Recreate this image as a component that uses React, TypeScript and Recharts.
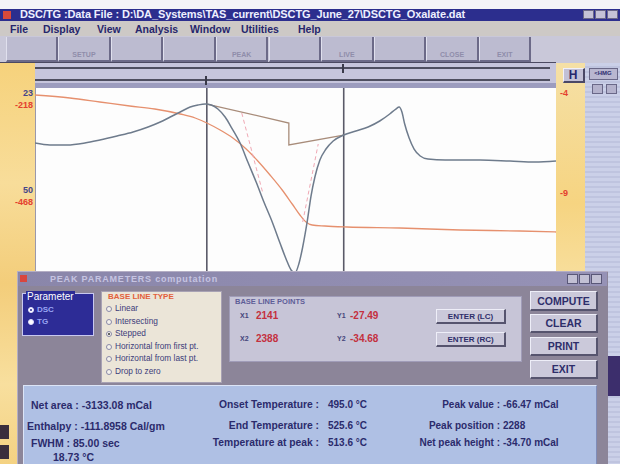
import React from 'react';
import { LineChart, Line, XAxis, YAxis, ReferenceLine } from 'recharts';

// DSC signal vs time (sec)
const dscTime = [1831, 1858, 1889, 1921, 1948, 1979, 2008, 2035, 2057, 2075, 2093, 2111, 2125, 2138, 2149, 2161, 2174, 2186, 2201, 2215, 2230, 2244, 2259, 2273, 2284, 2293, 2300, 2307, 2314, 2322, 2329, 2336, 2345, 2356, 2369, 2388, 2410, 2432, 2453, 2471, 2482, 2488, 2493, 2498, 2506, 2515, 2526, 2540, 2571, 2634, 2688, 2733, 2771];
const dscValue = [-36.92, -37.47, -37.47, -36.92, -36.08, -34.97, -33.85, -32.46, -31.07, -29.68, -28.29, -26.9, -26.34, -26.06, -26.34, -27.45, -29.68, -32.74, -36.92, -42.2, -47.77, -53.34, -58.9, -64.75, -69.2, -72.26, -73.1, -70.59, -65.86, -58.9, -51.67, -46.38, -41.65, -38.59, -36.36, -34.69, -33.58, -32.46, -30.79, -28.84, -27.45, -26.9, -28.29, -31.63, -35.52, -38.59, -40.53, -41.37, -41.65, -41.65, -41.93, -42.2, -41.93];

// TG signal vs time
const tgTime = [1831, 1894, 1948, 2002, 2047, 2093, 2120, 2141, 2165, 2188, 2212, 2233, 2255, 2277, 2295, 2309, 2320, 2331, 2354, 2394, 2489, 2598, 2706, 2771];
const tgValue = [-4.1, -4.25, -4.45, -4.65, -4.8, -5.05, -5.25, -5.5, -5.85, -6.25, -6.8, -7.4, -8.1, -8.85, -9.55, -10.1, -10.45, -10.6, -10.65, -10.7, -10.75, -10.85, -10.9, -10.95];

// stepped base line and tangents
const baseTime = [2141, 2289, 2289, 2388];
const baseValue = [-26.06, -31.35, -37.47, -34.69];
const tangentATime = [2204, 2242];
const tangentAValue = [-28.57, -50.83];
const tangentBTime = [2314, 2342];
const tangentBValue = [-58.9, -37.19];
const cursorTimes = [2141, 2388];

const leftTicks = [-23, -50];
const leftDscLabels = ['23', '50'];
const leftRedLabels = ['-218', '-468'];
const rightTicks = [-4, -9];

const menuItems = ['File', 'Display', 'View', 'Analysis', 'Window', 'Utilities', 'Help'];
const toolLabels = ['', 'SETUP', '', '', 'PEAK', '', 'LIVE', '', 'CLOSE', 'EXIT'];
const baseTypes = ['Linear', 'Intersecting', 'Stepped', 'Horizontal from first pt.', 'Horizontal from last pt.', 'Drop to zero'];
const sideButtons = ['COMPUTE', 'CLEAR', 'PRINT', 'EXIT'];
const col1 = ['Net area : -3133.08 mCal', 'Enthalpy : -111.8958 Cal/gm', 'FWHM : 85.00 sec'];
const col2Labels = ['Onset Temperature :', 'End Temperature :', 'Temperature at peak :'];
const col2Values = ['495.0 °C', '525.6 °C', '513.6 °C'];
const col3Labels = ['Peak value :', 'Peak position :', 'Net peak height :'];
const col3Values = ['-66.47 mCal', '2288', '-34.70 mCal'];

const zip = (ts: number[], vs: number[]) => ts.map((t, i) => ({ t, v: vs[i] }));

const dscData = zip(dscTime, dscValue);
const tgData = zip(tgTime, tgValue);
const baseData = zip(baseTime, baseValue);
const tanA = zip(tangentATime, tangentAValue);
const tanB = zip(tangentBTime, tangentBValue);

const FONT = '"Liberation Sans", Arial, sans-serif';
const rowY = [405, 426, 443];

function Box({ x, y, w, h, style }: any) {
  return <div style={{ position: 'absolute', left: x, top: y, width: w, height: h, boxSizing: 'border-box', ...style }} />;
}

function Txt({ x, y, s = 9, c = '#2b2b6c', right = false, center = false, children, style }: any) {
  return (
    <div
      style={{
        position: 'absolute', left: x, top: y - s * 0.6, fontSize: s, lineHeight: 1.2, color: c, fontWeight: 700,
        whiteSpace: 'nowrap', transform: right ? 'translateX(-100%)' : center ? 'translateX(-50%)' : undefined, ...style,
      }}
    >
      {children}
    </div>
  );
}

function Radio({ x, y, on, dark }: any) {
  return (
    <div style={{ position: 'absolute', left: x, top: y - 3, width: 6, height: 6, borderRadius: '50%', boxSizing: 'border-box',
      border: dark ? '1px solid #e0e0ff' : '1px solid #8a8aa8', background: dark ? '#fff' : '#f4f2ec' }}>
      {on && <div style={{ position: 'absolute', left: 1, top: 1, width: 2, height: 2, borderRadius: '50%', background: dark ? '#2d2c96' : '#333' }} />}
    </div>
  );
}

function Btn({ x, y, w, h, label, s = 10 }: any) {
  return (
    <div style={{ position: 'absolute', left: x, top: y, width: w, height: h, boxSizing: 'border-box', background: '#cbc9da',
      borderTop: '1px solid #eeeef8', borderLeft: '1px solid #eeeef8', borderRight: '2px solid #56546e', borderBottom: '2px solid #56546e',
      display: 'flex', alignItems: 'center', justifyContent: 'center', fontSize: s, fontWeight: 700, color: '#2e2e6a' }}>
      {label}
    </div>
  );
}

function LeftTick(props: any) {
  const { y, payload } = props;
  const i = leftTicks.indexOf(payload.value);
  return (
    <g fontFamily={FONT} fontSize={9} fontWeight={700}>
      <text x={33} y={y} dy={3} textAnchor="end" fill="#45458a">{leftDscLabels[i]}</text>
      <text x={33} y={y + 12} dy={3} textAnchor="end" fill="#e4402e">{leftRedLabels[i]}</text>
    </g>
  );
}

function RightTick(props: any) {
  const { y, payload } = props;
  return (
    <text x={560} y={y} dy={3} textAnchor="start" fill="#e4402e" fontFamily={FONT} fontSize={9} fontWeight={700}>
      {payload.value}
    </text>
  );
}

export default function App() {
  return (
    <div style={{ position: 'absolute', left: 0, top: 0, width: 620, height: 464, overflow: 'hidden', fontFamily: FONT, background: '#f4f4f8' }}>
      {/* title bar */}
      <Box x={0} y={9} w={620} h={12} style={{ background: '#2c2e8e' }} />
      <Box x={3} y={11} w={8} h={8} style={{ background: '#d84a3a' }} />
      <Txt x={20} y={15} s={11} c="#eef0ff" style={{ letterSpacing: -0.1 }}>{'DSC/TG :Data File :   D:\\DA_Systems\\TAS_current\\DSCTG_June_27\\DSCTG_Oxalate.dat'}</Txt>
      {[583, 595, 607].map((x) => <Box key={x} x={x} y={10} w={11} h={9} style={{ background: '#c4c2d6', border: '1px solid #6a6888' }} />)}
      {/* menu */}
      <Box x={0} y={21} w={620} h={15} style={{ background: '#cdc9c6' }} />
      {menuItems.map((m, i) => (
        <Txt key={m} x={[10, 43, 97, 135, 190, 241, 298][i]} y={29} s={10.5} c="#26266c">{m}</Txt>
      ))}
      {/* toolbar */}
      <Box x={0} y={36} w={620} h={27} style={{ background: '#c9c8d9' }} />
      {toolLabels.map((l, i) => (
        <div key={i} style={{ position: 'absolute', left: 5.5 + i * 52.6, top: 37, width: 52.6, height: 25, boxSizing: 'border-box',
          background: '#bcbbd0', borderRight: '2px solid #6c6a88', borderLeft: '1px solid #e0e0ee', borderBottom: '2px solid #6c6a88' }}>
          <div style={{ position: 'absolute', left: 0, right: 0, top: 14, textAlign: 'center', fontSize: 7, color: '#8f8daa', fontWeight: 700 }}>{l}</div>
        </div>
      ))}
      <Box x={0} y={62} w={556} h={1.5} style={{ background: '#4c4a62' }} />
      {/* slider strip */}
      <Box x={0} y={63} w={35} h={401} style={{ background: 'linear-gradient(180deg, #f6d27c 0%, #f8dd9a 30%, #f3cd7a 55%, #f8df9e 80%, #f4d282 100%)' }} />
      <Box x={35} y={63} w={521} h={25} style={{ background: '#c6c5dc' }} />
      <Box x={35} y={83} w={521} h={5} style={{ background: '#9c9cbe' }} />
      <Box x={35} y={67} w={515} h={1.5} style={{ background: '#4e4e60' }} />
      <Box x={35} y={79} w={515} h={1.5} style={{ background: '#4e4e60' }} />
      <Box x={342} y={64} w={2} h={9} style={{ background: '#3a3a4a' }} />
      <Box x={205} y={76} w={2} h={9} style={{ background: '#3a3a4a' }} />
      {/* right side panels */}
      <Box x={556} y={63} w={29} h={401} style={{ background: 'linear-gradient(180deg, #f5e0a6 0%, #f6d481 35%, #f8e2a6 60%, #f4d080 100%)' }} />
      <Box x={585} y={63} w={35} h={401} style={{ background: 'repeating-linear-gradient(180deg, #cbd0e8 0px, #cbd0e8 3px, #bfc4df 3px, #bfc4df 5px)' }} />
      <Box x={563} y={68} w={22} h={15} style={{ background: '#c2c0d6', borderTop: '1px solid #f0f0fa', borderLeft: '1px solid #f0f0fa', borderRight: '2px solid #4a4866', borderBottom: '2px solid #4a4866' }} />
      <Txt x={573} y={75} s={12} c="#28286c" center>H</Txt>
      <Box x={589} y={68} w={29} h={12} style={{ background: '#b9b7d0', border: '1px solid #6a6888' }} />
      <Txt x={603} y={74} s={6} c="#2e2e70" center>{'<HMG'}</Txt>
      <Box x={592} y={84} w={11} h={10} style={{ background: '#b4b2cc', border: '1px solid #6a6888' }} />
      <Box x={606} y={84} w={11} h={10} style={{ background: '#b4b2cc', border: '1px solid #6a6888' }} />
      {/* plot background */}
      <Box x={35} y={88} w={521} h={222} style={{ background: '#fdfdfd', borderLeft: '1px solid #9a98ac' }} />
      <div style={{ position: 'absolute', left: 0, top: 80 }}>
        <LineChart width={585} height={230} margin={{ top: 8, right: 0, bottom: 0, left: 0 }}>
          <XAxis type="number" dataKey="t" domain={[1831, 2771]} hide allowDataOverflow />
          <YAxis yAxisId="dsc" orientation="left" width={35} domain={[-83.4, -21.6]} ticks={leftTicks} interval={0}
            axisLine={false} tickLine={false} tick={(p: any) => <LeftTick {...p} />} allowDataOverflow />
          <YAxis yAxisId="tg" orientation="right" width={29} domain={[-14.85, -3.75]} ticks={rightTicks} interval={0}
            axisLine={false} tickLine={false} tick={(p: any) => <RightTick {...p} />} allowDataOverflow />
          {cursorTimes.map((t) => (
            <ReferenceLine key={t} yAxisId="dsc" x={t} stroke="#5a5a68" strokeWidth={1.6} />
          ))}
          <Line yAxisId="tg" data={tgData} dataKey="v" type="monotone" stroke="#e6906e" strokeWidth={1.3} dot={false} isAnimationActive={false} />
          <Line yAxisId="dsc" data={baseData} dataKey="v" type="linear" stroke="#a88c7a" strokeWidth={1.3} dot={false} isAnimationActive={false} />
          <Line yAxisId="dsc" data={tanA} dataKey="v" type="linear" stroke="#f0a8b4" strokeWidth={1} strokeDasharray="4 3" dot={false} isAnimationActive={false} />
          <Line yAxisId="dsc" data={tanB} dataKey="v" type="linear" stroke="#f0a8b4" strokeWidth={1} strokeDasharray="4 3" dot={false} isAnimationActive={false} />
          <Line yAxisId="dsc" data={dscData} dataKey="v" type="monotone" stroke="#6e7b8c" strokeWidth={1.5} dot={false} isAnimationActive={false} />
        </LineChart>
      </div>
      {/* peak parameters dialog */}
      <Box x={17} y={271} w={591} h={200} style={{ background: '#8c8599', borderTop: '1px solid #b4aec4', borderLeft: '1px solid #b4aec4' }} />
      <Box x={18} y={272} w={589} h={14} style={{ background: 'linear-gradient(90deg, #8a86aa, #9692b6)' }} />
      <Box x={20} y={275} w={7} h={7} style={{ background: '#d8463e' }} />
      <Txt x={50} y={279} s={9} c="#c6c4e2" style={{ letterSpacing: 0.8 }}>PEAK PARAMETERS computation</Txt>
      {[567, 579, 591].map((x) => <Box key={x} x={x} y={274} w={11} h={10} style={{ background: '#c2c0d4', border: '1px solid #5a5878' }} />)}
      {/* parameter group */}
      <Box x={22} y={293} w={72} h={43} style={{ background: '#2d2c96', border: '1px solid #c8c8f0' }} />
      <Txt x={26} y={297} s={10} c="#ffffff" style={{ background: '#2d2c96', padding: '0 1px', fontWeight: 400 }}>Parameter</Txt>
      <Radio x={28} y={310} on dark />
      <Txt x={37} y={310} s={8} c="#9aa6f4">DSC</Txt>
      <Radio x={28} y={322} dark />
      <Txt x={37} y={322} s={8} c="#9aa6f4">TG</Txt>
      {/* base line type */}
      <Box x={101} y={291} w={121} h={92} style={{ background: '#ebe5d8', border: '1px solid #a8a2b4' }} />
      <Txt x={108} y={297} s={8} c="#e2603c">BASE LINE TYPE</Txt>
      {baseTypes.map((b, i) => (
        <React.Fragment key={b}>
          <Radio x={106} y={309 + i * 12.6} on={i === 2} />
          <Txt x={115} y={309 + i * 12.6} s={8.3} c="#3c3c7a" style={{ fontWeight: 400 }}>{b}</Txt>
        </React.Fragment>
      ))}
      {/* base line points */}
      <Box x={229} y={296} w={293} h={66} style={{ background: '#c7c5d7', border: '1px solid #a09cb8' }} />
      <Txt x={235} y={301} s={7.5} c="#5e5e98">BASE LINE POINTS</Txt>
      <Txt x={240} y={316} s={7} c="#44447a">X1</Txt>
      <Txt x={256} y={316} s={10} c="#c4303e">2141</Txt>
      <Txt x={337} y={316} s={7} c="#44447a">Y1</Txt>
      <Txt x={350} y={316} s={10} c="#c4303e">-27.49</Txt>
      <Txt x={240} y={339} s={7} c="#44447a">X2</Txt>
      <Txt x={256} y={339} s={10} c="#c4303e">2388</Txt>
      <Txt x={337} y={339} s={7} c="#44447a">Y2</Txt>
      <Txt x={350} y={339} s={10} c="#c4303e">-34.68</Txt>
      <Btn x={436} y={309} w={70} h={15} label="ENTER (LC)" s={8} />
      <Btn x={436} y={332} w={70} h={15} label="ENTER (RC)" s={8} />
      {sideButtons.map((b, i) => (
        <Btn key={b} x={530} y={[291, 314, 337, 360][i]} w={68} h={i === 0 ? 20 : 19} label={b} s={10.5} />
      ))}
      {/* results panel */}
      <Box x={23} y={385} w={574} h={90} style={{ background: '#afc0e4', borderTop: '1px solid #dce4f6', borderLeft: '1px solid #dce4f6', borderRight: '1px solid #7f8cb8' }} />
      {col1.map((c, i) => (
        <Txt key={c} x={i === 1 ? 27 : 31} y={rowY[i]} s={10.5}>{c}</Txt>
      ))}
      <Txt x={53} y={457} s={10.5}>18.73 °C</Txt>
      {col2Labels.map((c, i) => (
        <React.Fragment key={c}>
          <Txt x={319} y={rowY[i]} s={10.3} right>{c}</Txt>
          <Txt x={328} y={rowY[i]} s={10} >{col2Values[i]}</Txt>
        </React.Fragment>
      ))}
      {col3Labels.map((c, i) => (
        <React.Fragment key={c}>
          <Txt x={500} y={rowY[i]} s={10} right>{c}</Txt>
          <Txt x={503} y={rowY[i]} s={10}>{col3Values[i]}</Txt>
        </React.Fragment>
      ))}
      {/* edge details */}
      <Box x={0} y={425} w={9} h={14} style={{ background: '#3a2e3c' }} />
      <Box x={0} y={445} w={9} h={14} style={{ background: '#3a2e3c' }} />
      <Box x={608} y={356} w={12} h={40} style={{ background: '#3c2e6c' }} />
    </div>
  );
}
